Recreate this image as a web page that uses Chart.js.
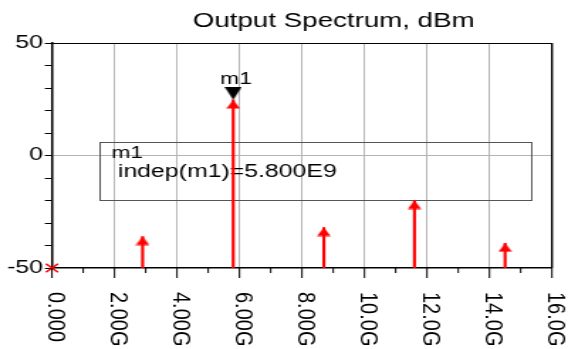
<!DOCTYPE html>
<html>
<head>
<meta charset="utf-8">
<title>Output Spectrum</title>
<script src="https://cdn.jsdelivr.net/npm/chart.js@4.4.1/dist/chart.umd.min.js"></script>
<style>
  html, body { margin: 0; padding: 0; background: #fff; overflow: hidden; }
  /* the source plot is a horizontally stretched screenshot, so stretch ours the same way */
  #wrap { width: 400px; height: 349px; transform: scaleX(1.42); transform-origin: 0 0; }
</style>
</head>
<body>
<div id="wrap"><canvas id="spectrum"></canvas></div>
<script>
// Harmonic tones (Hz) and their levels (dBm)
const toneFreqs = [2.9e9, 5.8e9, 8.7e9, 11.6e9, 14.5e9];
const toneLevels = [-36, 24.7, -32, -20, -39];
// DC bin sits at the bottom of the axis
const dcFreqs = [0];
const dcLevels = [-50];
// marker m1
const markerName = 'm1';
const markerFreq = 5.8e9;
const markerLevel = 24.7;
// axes
const xTickValues = [0, 2e9, 4e9, 6e9, 8e9, 10e9, 12e9, 14e9, 16e9];
const xTickLabels = ['0.000', '2.00G', '4.00G', '6.00G', '8.00G', '10.0G', '12.0G', '14.0G', '16.0G'];
const yTickLabels = [-50, 0, 50];
const chartTitle = 'Output Spectrum, dBm';

const FONT = '"Liberation Sans", Arial, sans-serif';
const RED = '#ff0000';

// point images whose centre is the tip, so the tip lands on the value
function arrowHead() {
    const c = document.createElement('canvas');
    c.width = 10; c.height = 18;
    const g = c.getContext('2d');
    g.fillStyle = RED;
    g.beginPath();
    g.moveTo(5, 9); g.lineTo(9.8, 17.6); g.lineTo(0.2, 17.6);
    g.closePath(); g.fill();
    return c;
}
function markerHead() {
    const c = document.createElement('canvas');
    c.width = 12; c.height = 26;
    const g = c.getContext('2d');
    g.fillStyle = '#000';
    g.beginPath();
    g.moveTo(0, 0); g.lineTo(12, 0); g.lineTo(6, 13);
    g.closePath(); g.fill();
    return c;
}

const decor = {
    id: 'decor',
    beforeDatasetsDraw(chart) {
        const ctx = chart.ctx;
        // marker readout box
        ctx.save();
        ctx.strokeStyle = '#555';
        ctx.lineWidth = 1;
        ctx.strokeRect(70.5, 142.5, 304, 58);
        ctx.fillStyle = '#000';
        ctx.textAlign = 'left';
        ctx.textBaseline = 'alphabetic';
        ctx.font = '16px ' + FONT;
        ctx.fillText(markerName, 78.5, 158);
        ctx.font = '17.5px ' + FONT;
        ctx.fillText('indep(' + markerName + ')=' + (markerFreq / 1e9).toFixed(3) + 'E9', 83, 177);
        ctx.restore();
    },
    afterDraw(chart) {
        const ctx = chart.ctx;
        const { top, bottom, left, right } = chart.chartArea;
        const xs = chart.scales.x, ys = chart.scales.y;
        ctx.save();
        // top and right frame
        ctx.strokeStyle = '#000';
        ctx.lineWidth = 1;
        ctx.beginPath();
        ctx.moveTo(left, top + 0.5); ctx.lineTo(right, top + 0.5);
        ctx.stroke();
        ctx.lineWidth = 1.4;
        ctx.beginPath();
        ctx.moveTo(right, top); ctx.lineTo(right, bottom);
        ctx.stroke();
        // x tick marks, long ones at the labelled ticks
        ctx.lineWidth = 1;
        xs.ticks.forEach(t => {
            const x = xs.getPixelForValue(t.value);
            const major = Math.round(t.value / 1e9) % 2 === 0;
            ctx.beginPath();
            ctx.moveTo(x, bottom);
            ctx.lineTo(x, bottom + (major ? 10 : 5));
            ctx.stroke();
        });
        // x labels read top to bottom
        ctx.fillStyle = '#000';
        ctx.font = '20px ' + FONT;
        ctx.textAlign = 'left';
        ctx.textBaseline = 'middle';
        xTickValues.forEach((v, i) => {
            ctx.save();
            ctx.translate(xs.getPixelForValue(v) + 2, 292);
            ctx.rotate(Math.PI / 2);
            ctx.scale(1, 0.86);
            ctx.fillText(xTickLabels[i], 0, 0);
            ctx.restore();
        });
        // title
        ctx.font = '19.5px ' + FONT;
        ctx.textAlign = 'center';
        ctx.textBaseline = 'alphabetic';
        ctx.fillText(chartTitle, 235, 27);
        // marker name above the marker
        ctx.font = '16px ' + FONT;
        ctx.fillText(markerName, xs.getPixelForValue(markerFreq) + 2, ys.getPixelForValue(markerLevel) - 16);
        ctx.restore();
    }
};

new Chart(document.getElementById('spectrum'), {
    type: 'scatter',
    data: {
        datasets: [
            {
                label: 'tone heads',
                data: toneFreqs.map((f, i) => ({ x: f, y: toneLevels[i] })),
                pointStyle: arrowHead(),
                order: 0,
                clip: false
            },
            {
                label: markerName,
                data: [{ x: markerFreq, y: markerLevel }],
                pointStyle: markerHead(),
                order: 1,
                clip: false
            },
            {
                label: 'DC',
                data: dcFreqs.map((f, i) => ({ x: f, y: dcLevels[i] })),
                pointStyle: 'crossRot',
                radius: 6,
                borderColor: RED,
                borderWidth: 1.5,
                order: 0,
                clip: false
            },
            {
                type: 'bar',
                label: 'tones',
                data: toneFreqs.map((f, i) => ({ x: f, y: [-50, toneLevels[i]] })),
                backgroundColor: RED,
                borderWidth: 0,
                barThickness: 1.5,
                order: 2
            }
        ]
    },
    options: {
        responsive: true,
        maintainAspectRatio: false,
        animation: false,
        devicePixelRatio: 1,
        layout: { padding: { top: 43, right: 11.3, bottom: 0, left: 0 } },
        plugins: {
            legend: { display: false },
            tooltip: { enabled: false },
            title: { display: false }
        },
        scales: {
            x: {
                type: 'linear',
                min: 0,
                max: 16e9,
                offset: false,
                ticks: { display: false, stepSize: 1e9, autoSkip: false, maxTicksLimit: 50 },
                grid: {
                    offset: false,
                    drawTicks: false,
                    lineWidth: 1,
                    color: c => {
                        const g = Math.round(c.tick.value / 1e9);
                        return (g % 2 === 0 && g > 0 && g < 16) ? '#b4b4b4' : 'rgba(0,0,0,0)';
                    }
                },
                border: { color: '#000', width: 1.5 },
                afterFit(scale) { scale.height = 81; }
            },
            y: {
                min: -50,
                max: 50,
                ticks: {
                    stepSize: 10,
                    autoSkip: false,
                    padding: 1.3,
                    color: '#000',
                    font: { family: FONT, size: 17.5 },
                    callback: v => yTickLabels.includes(v) ? String(v) : ''
                },
                grid: {
                    lineWidth: 1,
                    tickLength: 5,
                    tickColor: '#000',
                    color: c => c.tick.value === 0 ? '#b4b4b4' : 'rgba(0,0,0,0)'
                },
                border: { color: '#000', width: 1.5 },
                afterFit(scale) { scale.width = 36.6; }
            }
        }
    },
    plugins: [decor]
});
</script>
</body>
</html>
